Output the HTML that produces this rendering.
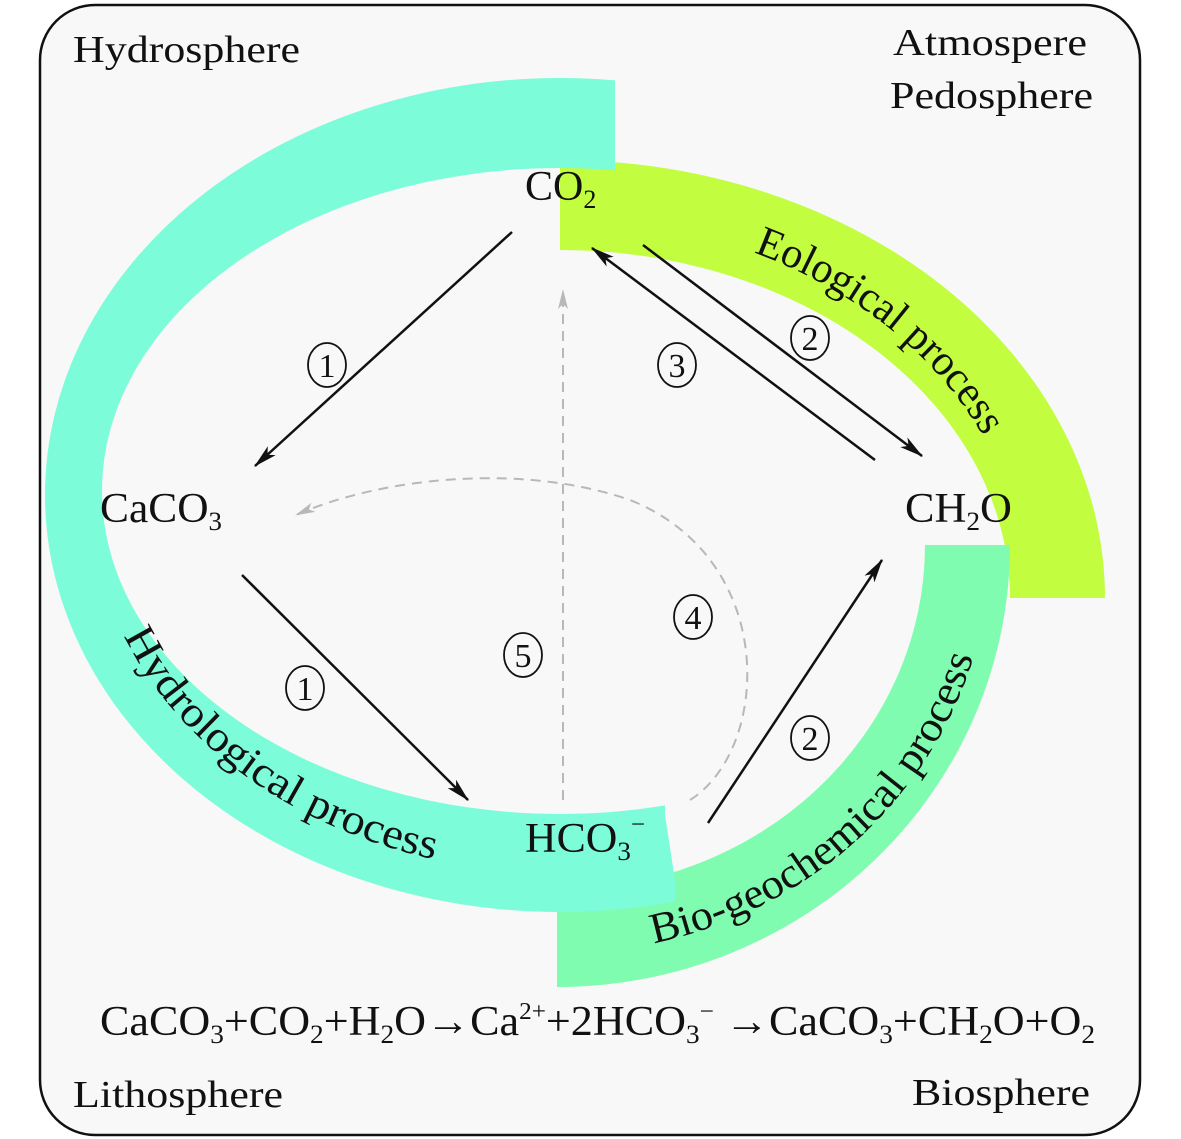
<!DOCTYPE html>
<html><head><meta charset="utf-8"><style>
html,body{margin:0;padding:0;background:#fff}
svg{display:block}
text{font-family:"Liberation Serif",serif;fill:#111}
</style></head><body>
<svg width="1181" height="1139" viewBox="0 0 1181 1139" xmlns="http://www.w3.org/2000/svg">
<defs>
<marker id="ah" viewBox="0 0 20 10" refX="19" refY="5" markerWidth="24" markerHeight="12" markerUnits="userSpaceOnUse" orient="auto">
<path d="M0,0 L20,5 L0,10 L5,5 Z" fill="#111"/></marker>
<marker id="ag" viewBox="0 0 20 10" refX="19" refY="5" markerWidth="20" markerHeight="11" markerUnits="userSpaceOnUse" orient="auto">
<path d="M0,0 L20,5 L0,10 L5,5 Z" fill="#b8b8b8"/></marker>
<clipPath id="cg"><rect x="560" y="0" width="700" height="598"/></clipPath>
<clipPath id="ct"><rect x="557" y="545" width="700" height="600"/></clipPath>
<clipPath id="cc"><polygon points="0,0 615,0 615,495 665,495 665,815 675,880 675,1139 0,1139"/></clipPath>
<path id="pE" d="M750,251 A468,380 0 0 1 1012,500"/>
<path id="pH" d="M118,623 A470,375 0 0 0 640,868"/>
<path id="pB" d="M640,946 A430,410 0 0 0 990,560"/>
</defs>
<rect x="0" y="0" width="1181" height="1139" fill="#fff"/>
<rect x="40" y="5" width="1100" height="1130" rx="55" ry="55" fill="#f8f8f8" stroke="#111" stroke-width="2.5"/>
<path clip-path="url(#cg)" fill-rule="evenodd" fill="#c2fd3f" d="M15,598 A545,438 0 1 0 1105,598 A545,438 0 1 0 15,598 Z M110,598 A450,348 0 1 0 1010,598 A450,348 0 1 0 110,598 Z"/>
<path clip-path="url(#ct)" fill-rule="evenodd" fill="#80fcb0" d="M104,545 A453,442 0 1 0 1010,545 A453,442 0 1 0 104,545 Z M189,545 A368,345 0 1 0 925,545 A368,345 0 1 0 189,545 Z"/>
<path clip-path="url(#cc)" fill-rule="evenodd" fill="#7dfcd9" d="M45,495 A515,417 0 1 0 1075,495 A515,417 0 1 0 45,495 Z M102,491 A458,323 0 1 0 1018,491 A458,323 0 1 0 102,491 Z"/>

<text font-size="43"><textPath href="#pE" startOffset="4" textLength="300" lengthAdjust="spacingAndGlyphs">Eological process</textPath></text>
<text font-size="43"><textPath href="#pH" startOffset="14" textLength="395" lengthAdjust="spacingAndGlyphs">Hydrological process</textPath></text>
<text font-size="43"><textPath href="#pB" startOffset="14" textLength="450" lengthAdjust="spacingAndGlyphs">Bio-geochemical process</textPath></text>

<text x="73" y="62" font-size="38" textLength="227" lengthAdjust="spacingAndGlyphs">Hydrosphere</text>
<text x="893" y="55" font-size="38" textLength="194" lengthAdjust="spacingAndGlyphs">Atmospere</text>
<text x="890" y="108" font-size="38" textLength="203" lengthAdjust="spacingAndGlyphs">Pedosphere</text>
<text x="73" y="1107" font-size="38" textLength="210" lengthAdjust="spacingAndGlyphs">Lithosphere</text>
<text x="912" y="1105" font-size="38" textLength="178" lengthAdjust="spacingAndGlyphs">Biosphere</text>

<text x="525" y="200" font-size="42">CO<tspan font-size="26" dy="8">2</tspan></text>
<text x="100" y="522" font-size="42" textLength="122" lengthAdjust="spacingAndGlyphs">CaCO<tspan font-size="26" dy="8">3</tspan></text>
<text x="905" y="522" font-size="42" textLength="107" lengthAdjust="spacingAndGlyphs">CH<tspan font-size="26" dy="8">2</tspan><tspan dy="-8">O</tspan></text>
<text x="525" y="852" font-size="42" textLength="120" lengthAdjust="spacingAndGlyphs">HCO<tspan font-size="26" dy="8">3</tspan><tspan font-size="24" dy="-28">−</tspan></text>

<text x="100" y="1035" font-size="42" textLength="995" lengthAdjust="spacingAndGlyphs">CaCO<tspan font-size="26" dy="8">3</tspan><tspan dy="-8">+CO</tspan><tspan font-size="26" dy="8">2</tspan><tspan dy="-8">+H</tspan><tspan font-size="26" dy="8">2</tspan><tspan dy="-8">O→Ca</tspan><tspan font-size="24" dy="-16">2+</tspan><tspan dy="16">+2HCO</tspan><tspan font-size="26" dy="8">3</tspan><tspan font-size="24" dy="-24">−</tspan><tspan dy="16"> →CaCO</tspan><tspan font-size="26" dy="8">3</tspan><tspan dy="-8">+CH</tspan><tspan font-size="26" dy="8">2</tspan><tspan dy="-8">O+O</tspan><tspan font-size="26" dy="8">2</tspan></text>

<g stroke="#111" stroke-width="2.5" fill="none">
<line x1="512" y1="232" x2="255" y2="466" marker-end="url(#ah)"/>
<line x1="242" y1="575" x2="468" y2="800" marker-end="url(#ah)"/>
<line x1="643" y1="245" x2="922" y2="456" marker-end="url(#ah)"/>
<line x1="875" y1="460" x2="592" y2="248" marker-end="url(#ah)"/>
<line x1="708" y1="823" x2="882" y2="560" marker-end="url(#ah)"/>
</g>
<g stroke="#b8b8b8" stroke-width="2" fill="none" stroke-dasharray="10,7">
<line x1="563" y1="800" x2="563" y2="290" marker-end="url(#ag)"/>
<path d="M690,800 C770,750 780,560 630,500 C520,462 380,478 296,515" marker-end="url(#ag)"/>
</g>

<g fill="none" stroke="#111" stroke-width="1.8">
<ellipse cx="327" cy="365" rx="19" ry="22"/>
<ellipse cx="305" cy="688" rx="19" ry="22"/>
<ellipse cx="810" cy="338" rx="19" ry="22"/>
<ellipse cx="677" cy="365" rx="19" ry="22"/>
<ellipse cx="693" cy="617" rx="19" ry="22"/>
<ellipse cx="523" cy="655" rx="19" ry="22"/>
<ellipse cx="810" cy="738" rx="19" ry="22"/>
</g>
<g font-size="34" text-anchor="middle">
<text x="327" y="377">1</text>
<text x="305" y="700">1</text>
<text x="810" y="350">2</text>
<text x="677" y="377">3</text>
<text x="693" y="629">4</text>
<text x="523" y="667">5</text>
<text x="810" y="750">2</text>
</g>
</svg>
</body></html>
